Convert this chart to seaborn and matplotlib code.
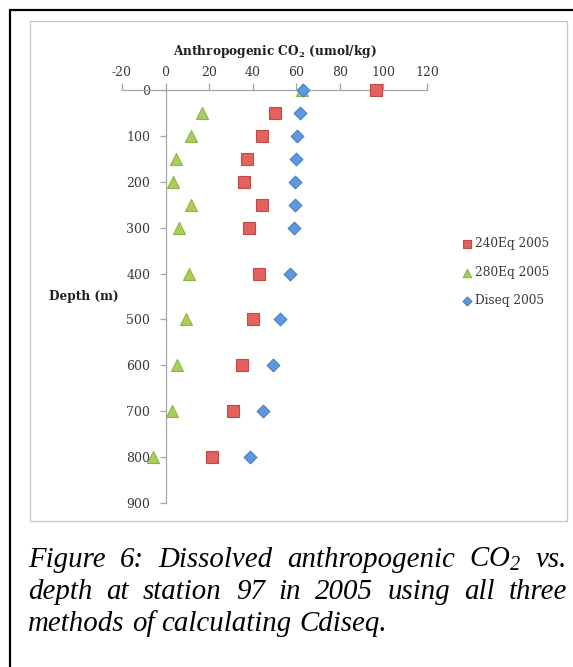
import numpy as np
import pandas as pd
import matplotlib
matplotlib.use("Agg")
import matplotlib.pyplot as plt
import seaborn as sns
from matplotlib.lines import Line2D
from matplotlib.patches import Rectangle

# ---------------- data ----------------
depth = [0, 50, 100, 150, 200, 250, 300, 400, 500, 600, 700, 800]
eq240 = [96.6, 50.1, 44.2, 37.2, 35.9, 44.2, 38.4, 42.7, 40.0, 34.9, 30.9, 21.2]
eq280 = [62.8, 16.8, 11.5, 4.6, 3.4, 11.9, 6.1, 10.7, 9.3, 5.4, 2.9, -6.0]
diseq = [63.0, 61.8, 60.4, 60.0, 59.3, 59.3, 58.9, 57.3, 52.3, 49.2, 44.6, 38.9]
series_names = ["240Eq 2005", "280Eq 2005", "Diseq 2005"]
x_ticks = [-20, 0, 20, 40, 60, 80, 100, 120]
y_ticks = [0, 100, 200, 300, 400, 500, 600, 700, 800, 900]

x_label = "Anthropogenic CO$\\mathbf{_2}$ (umol/kg)"
y_label = "Depth (m)"
caption_lines = [
    "Figure 6: Dissolved anthropogenic CO$_2$ vs.",
    "depth at station 97 in 2005 using all three",
    "methods of calculating Cdiseq.",
]

df = pd.DataFrame({
    "depth": depth * 3,
    "co2": eq240 + eq280 + diseq,
    "series": [series_names[0]] * len(depth) + [series_names[1]] * len(depth) + [series_names[2]] * len(depth),
})

# ---------------- style ----------------
sns.set_style("white")
plt.rcParams["font.family"] = ["DejaVu Serif"]
plt.rcParams["axes.unicode_minus"] = False
plt.rcParams["mathtext.fontset"] = "custom"
plt.rcParams["mathtext.rm"] = "Liberation Serif:italic"
plt.rcParams["mathtext.it"] = "Liberation Serif:italic"
plt.rcParams["mathtext.bf"] = "DejaVu Serif:bold"

W, H = 573, 667
fig = plt.figure(figsize=(W / 100, H / 100), dpi=100)

def fx(px):
    return px / W

def fy(py):
    return 1 - py / H

ax_left, ax_right, ax_top, ax_bottom = 122, 427, 90, 503
ax = fig.add_axes([fx(ax_left), fy(ax_bottom), (ax_right - ax_left) / W, (ax_bottom - ax_top) / H])
ax.set_facecolor("none")

styles = {
    series_names[0]: dict(marker="s", s=80, color="#e4625d", edgecolor="#c24a46"),
    series_names[1]: dict(marker="^", s=75, color="#a9ce5e", edgecolor="#8fb545"),
    series_names[2]: dict(marker="D", s=42, color="#5e97dd", edgecolor="#4a80c4"),
}
for name in series_names:
    st = styles[name]
    sub = df[df["series"] == name]
    sns.scatterplot(data=sub, x="co2", y="depth", ax=ax, marker=st["marker"], s=st["s"],
                    color=st["color"], edgecolor=st["edgecolor"], linewidth=0.8,
                    label=name, zorder=3, clip_on=False)

ax.set_xlim(-20, 120)
ax.set_ylim(900, 0)
ax.set_xticks(x_ticks)
ax.set_yticks(y_ticks)

axis_gray = "#a6a6a6"
tick_gray = "#3a3a3a"
for side in ["bottom", "right"]:
    ax.spines[side].set_visible(False)
ax.spines["left"].set_position(("data", 0))
for side in ["left", "top"]:
    ax.spines[side].set_color(axis_gray)
    ax.spines[side].set_linewidth(0.9)

ax.xaxis.set_ticks_position("top")
ax.xaxis.set_label_position("top")
ax.tick_params(axis="x", top=True, bottom=False, labeltop=True, labelbottom=False,
               direction="out", length=5, width=0.9, color=axis_gray, pad=3,
               labelsize=9, labelcolor=tick_gray)
ax.tick_params(axis="y", left=True, right=False, direction="out", length=4, width=0.9,
               color=axis_gray, pad=7, labelsize=9, labelcolor=tick_gray)

ax.set_xlabel(x_label, fontsize=8.7, fontweight="bold", color="#1f1f1f", labelpad=8)
ax.set_ylabel(y_label, fontsize=8.7, fontweight="bold", color="#1f1f1f", rotation=0,
              ha="right", va="center")
ax.yaxis.set_label_coords(-0.010, 0.5)

handles, labels = ax.get_legend_handles_labels()
leg = ax.legend(handles, labels, loc="upper left", bbox_to_anchor=(fx(462), fy(237)),
                bbox_transform=fig.transFigure, frameon=False, fontsize=8.7,
                markerscale=0.7, handlelength=0.8, handletextpad=0.25,
                labelspacing=1.3, borderpad=0, borderaxespad=0)
for t in leg.get_texts():
    t.set_color(tick_gray)

# ---------------- frames ----------------
fig.add_artist(Rectangle((fx(29.5), fy(521)), (567 - 29.5) / W, (521 - 21) / H,
                         transform=fig.transFigure, fill=False, edgecolor="#c6c6c6",
                         linewidth=0.9))
fig.add_artist(Line2D([fx(10), fx(10)], [fy(9.5), 0], transform=fig.transFigure,
                      color="black", linewidth=1.6))
fig.add_artist(Line2D([fx(9.5), 1], [fy(10), fy(10)], transform=fig.transFigure,
                      color="black", linewidth=1.6))

# ---------------- caption (justified) ----------------
fig.canvas.draw()
renderer = fig.canvas.get_renderer()
cap_kw = dict(fontsize=20.8, style="italic", family=["Liberation Serif"], color="black",
              va="baseline", ha="left")
x0, x1 = 28, 567
baselines = [567, 599, 631]
for i, line in enumerate(caption_lines):
    words = line.split(" ")
    texts = [fig.text(0, 0, w, **cap_kw) for w in words]
    widths = [t.get_window_extent(renderer).width for t in texts]
    if i < len(caption_lines) - 1:
        gap = (x1 - x0 - sum(widths)) / (len(words) - 1)
    else:
        gap = 0.25 * 20.8 * 100 / 72
    x = x0
    for t, w in zip(texts, widths):
        t.set_position((fx(x), fy(baselines[i])))
        x += w + gap

fig.savefig("out.png", dpi=100)
